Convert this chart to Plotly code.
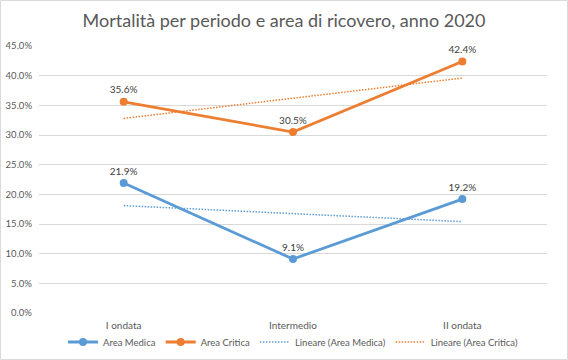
import plotly.graph_objects as go

categories = ["I ondata", "Intermedio", "II ondata"]
area_medica = [21.9, 9.1, 19.2]
area_critica = [35.6, 30.5, 42.4]
trend_medica = [18.1, 16.7, 15.4]
trend_critica = [32.8, 36.2, 39.6]
y_ticks = [0, 5, 10, 15, 20, 25, 30, 35, 40, 45]
y_tick_labels = ["0.0%", "5.0%", "10.0%", "15.0%", "20.0%", "25.0%", "30.0%", "35.0%", "40.0%", "45.0%"]

BLUE = "#5B9BD5"
ORANGE = "#ED7D31"
FONT = "Lato"

W, H = 568, 360
ML, MR, MT, MB = 39, 21, 46, 47

fig = go.Figure()
fig.add_trace(go.Scatter(
    x=categories, y=area_medica, name="Area Medica", mode="lines+markers+text",
    line=dict(color=BLUE, width=2.8), marker=dict(size=8, color=BLUE),
    text=[f"{v:.1f}%" for v in area_medica], textposition="top center",
    textfont=dict(size=10, color="#404040", family=FONT), cliponaxis=False))
fig.add_trace(go.Scatter(
    x=categories, y=area_critica, name="Area Critica", mode="lines+markers+text",
    line=dict(color=ORANGE, width=2.8), marker=dict(size=8, color=ORANGE),
    text=[f"{v:.1f}%" for v in area_critica], textposition="top center",
    textfont=dict(size=10, color="#404040", family=FONT), cliponaxis=False))
fig.add_trace(go.Scatter(
    x=categories, y=trend_medica, name="Lineare (Area Medica)", mode="lines",
    line=dict(color=BLUE, width=1.5, dash="1.5px,1.5px")))
fig.add_trace(go.Scatter(
    x=categories, y=trend_critica, name="Lineare (Area Critica)", mode="lines",
    line=dict(color=ORANGE, width=1.5, dash="1.5px,1.5px")))

pw = W - ML - MR
ph = H - MT - MB
fig.add_shape(type="rect", xref="paper", yref="paper",
              x0=(0.5 - ML) / pw, x1=(W - 0.5 - ML) / pw,
              y0=-(MB - 0.5) / ph, y1=1 + (MT - 0.5) / ph,
              line=dict(color="#D9D9D9", width=1), fillcolor="rgba(0,0,0,0)", layer="below")

fig.update_layout(
    width=W, height=H, margin=dict(l=ML, r=MR, t=MT, b=MB, autoexpand=False),
    paper_bgcolor="white", plot_bgcolor="white",
    font=dict(family=FONT, color="#595959"),
    title=dict(text="Mortalità per periodo e area di ricovero, anno 2020",
               x=0.5, xref="container", y=1 - 21 / H, yanchor="middle",
               font=dict(size=18, color="#595959", family=FONT)),
    xaxis=dict(range=[-0.5, 2.5], showgrid=False, showline=False, ticks="",
               tickfont=dict(size=10, color="#595959"), ticklabelstandoff=5,
               automargin=False),
    yaxis=dict(range=[0, 45], tickvals=y_ticks, ticktext=y_tick_labels,
               showgrid=True, gridcolor="#D9D9D9", gridwidth=1, zeroline=False,
               showline=False, ticks="", tickfont=dict(size=9.5, color="#595959"),
               ticklabelstandoff=6, automargin=False),
    legend=dict(orientation="h", x=0.5, xanchor="center", y=-(MB - 18) / ph,
                yanchor="middle", font=dict(size=9.5, color="#595959"),
                itemwidth=30, tracegroupgap=0, bgcolor="rgba(0,0,0,0)"),
    showlegend=True,
)

fig.write_html("out.html", post_script="document.body.style.margin='0';",
               config={"displayModeBar": False})
